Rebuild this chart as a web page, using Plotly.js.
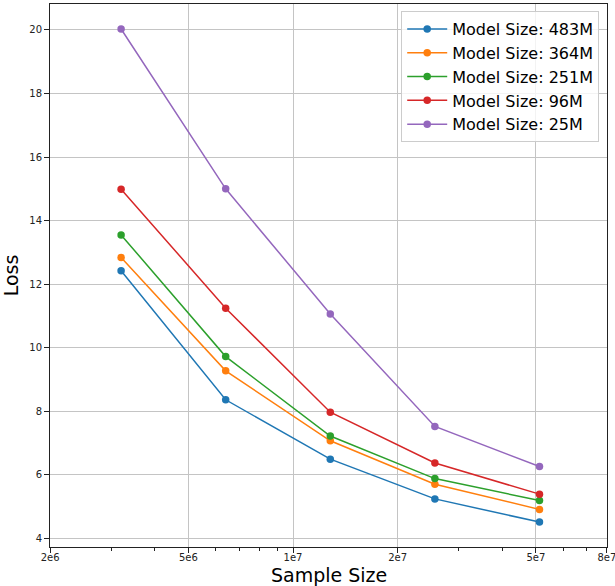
<!DOCTYPE html>
<html>
<head>
<meta charset="utf-8">
<script src="https://cdn.plot.ly/plotly-3.0.1.min.js"></script>
<style>html,body{margin:0;padding:0;background:#fff;}#chart{width:615px;height:586px;}</style>
</head>
<body>
<div id="chart"></div>
<script>
const sampleSizes = [3.2e6, 6.4e6, 1.28e7, 2.56e7, 5.12e7];
const seriesNames = ["Model Size: 483M", "Model Size: 364M", "Model Size: 251M", "Model Size: 96M", "Model Size: 25M"];
const loss483M = [12.42, 8.36, 6.49, 5.24, 4.51];
const loss364M = [12.84, 9.27, 7.07, 5.70, 4.91];
const loss251M = [13.55, 9.72, 7.22, 5.88, 5.19];
const loss96M  = [14.99, 11.24, 7.97, 6.37, 5.39];
const loss25M  = [20.03, 15.00, 11.06, 7.52, 6.26];
const xTickVals = [2e6, 5e6, 1e7, 2e7, 5e7, 8e7];
const xTickText = ["2e6", "5e6", "1e7", "2e7", "5e7", "8e7"];
const xMinorVals = [3e6, 4e6, 6e6, 7e6, 8e6, 9e6, 3e7, 4e7, 6e7, 7e7];
const yTickVals = [4, 6, 8, 10, 12, 14, 16, 18, 20];
const xTitle = "Sample Size";
const yTitle = "Loss";

const colors = ["#1f77b4", "#ff7f0e", "#2ca02c", "#d62728", "#9467bd"];
const allSeries = [loss483M, loss364M, loss251M, loss96M, loss25M];

const traces = allSeries.map((ys, i) => ({
  x: sampleSizes, y: ys, name: seriesNames[i], type: "scatter", mode: "lines+markers",
  line: {color: colors[i], width: 1.5},
  marker: {color: colors[i], size: 7.5}
}));

const layout = {
  width: 615, height: 586,
  margin: {l: 50, r: 8, t: 4, b: 39},
  paper_bgcolor: "#fff", plot_bgcolor: "#fff",
  font: {family: "DejaVu Sans", size: 10, color: "#222"},
  showlegend: true,
  legend: {
    x: 0.986, xanchor: "right", y: 0.987, yanchor: "top",
    bgcolor: "rgba(255,255,255,0.8)", bordercolor: "#cccccc", borderwidth: 1,
    font: {family: "DejaVu Sans", size: 16, color: "#000"},
    itemwidth: 40,
    tracegroupgap: 0
  },
  xaxis: {
    type: "log",
    range: [Math.log10(2e6) - 0.0005, Math.log10(8e7) + 0.0005],
    tickmode: "array", tickvals: xTickVals, ticktext: xTickText,
    ticklabeloverflow: "allow",
    ticklabelstandoff: -4,
    ticks: "outside", ticklen: 5, tickcolor: "#222", tickwidth: 1,
    minor: {tickmode: "array", tickvals: xMinorVals, ticks: "outside", ticklen: 2.5, tickcolor: "#222", showgrid: false},
    showgrid: true, gridcolor: "#c4c4c4", gridwidth: 1,
    showline: true, linecolor: "#222", linewidth: 1, mirror: true,
    zeroline: false,
    tickfont: {family: "DejaVu Sans", size: 10, color: "#222"},
    automargin: false
  },
  yaxis: {
    range: [3.726, 20.818],
    tickmode: "array", tickvals: yTickVals,
    ticks: "outside", ticklen: 5, tickcolor: "#222", tickwidth: 1,
    showgrid: true, gridcolor: "#c4c4c4", gridwidth: 1,
    showline: true, linecolor: "#222", linewidth: 1, mirror: true,
    zeroline: false,
    tickfont: {family: "DejaVu Sans", size: 10, color: "#222"},
    title: {text: yTitle, font: {family: "DejaVu Sans", size: 19, color: "#000"}},
    automargin: false
  },
  annotations: [{
    text: xTitle, xref: "paper", yref: "paper", x: 0.5, y: -0.0508,
    xanchor: "center", yanchor: "middle", showarrow: false, borderpad: 0,
    font: {family: "DejaVu Sans", size: 19, color: "#000"}
  }]
};

Plotly.newPlot("chart", traces, layout, {displayModeBar: false, staticPlot: true});
</script>
</body>
</html>
